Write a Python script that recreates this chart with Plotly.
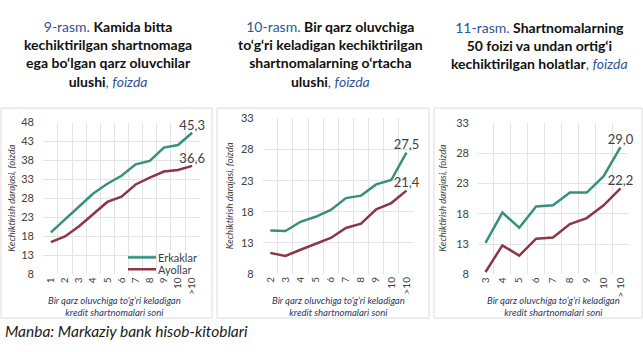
import plotly.graph_objects as go

W, H = 643, 352

# ---- data ----
cats1 = ["1", "2", "3", "4", "5", "6", "7", "8", "9", "10", ">10"]
men1 = [19.1, 22.5, 25.8, 29.3, 31.9, 34.0, 37.0, 37.9, 41.4, 42.1, 45.3]
women1 = [16.5, 18.0, 20.7, 23.9, 27.1, 28.5, 31.7, 33.5, 35.1, 35.5, 36.6]

cats2 = ["2", "3", "4", "5", "6", "7", "8", "9", "10", ">10"]
men2 = [15.0, 14.9, 16.4, 17.2, 18.3, 20.2, 20.6, 22.4, 23.1, 27.5]
women2 = [11.4, 10.9, 11.9, 12.9, 13.8, 15.4, 16.1, 18.4, 19.4, 21.4]

cats3 = ["3", "4", "5", "6", "7", "8", "9", "10", "> 10"]
men3 = [13.2, 18.2, 15.7, 19.2, 19.4, 21.5, 21.5, 24.2, 29.0]
women3 = [8.4, 12.8, 11.1, 13.9, 14.1, 16.3, 17.3, 19.4, 22.2]

series_names = ["Erkaklar", "Ayollar"]
y_ranges = [(8, 48), (8, 33), (8, 33)]

TEAL = "#35917d"
RED = "#8c3746"
COLORS = [TEAL, RED]
GRID = "#e3e3e3"
TXT = "#404040"
BLUE = "#2f5597"
FONT = "Lato, 'Open Sans', sans-serif"

def px_x(p):
    return p / W

def px_y(p):
    return 1 - p / H

def lab(vals):
    return [""] * (len(vals) - 1) + [f"{vals[-1]:.1f}".replace(".", ",")]

fig = go.Figure()

panels = [
    (cats1, men1, women1, "x", "y"),
    (cats2, men2, women2, "x2", "y2"),
    (cats3, men3, women3, "x3", "y3"),
]
for i, (cats, m, w, xa, ya) in enumerate(panels):
    for name, vals, col in ((series_names[0], m, TEAL), (series_names[1], w, RED)):
        fig.add_trace(go.Scatter(
            x=cats, y=vals, name=name, mode="lines+text",
            text=lab(vals), textposition="top center",
            textfont=dict(size=13, color=TXT, family=FONT),
            line=dict(color=col, width=2.5),
            xaxis=xa, yaxis=ya, showlegend=False, cliponaxis=False,
            hoverinfo="skip",
        ))

# plot-area domains in pixels (left, right, top, bottom)
areas = [(43, 200, 120, 277.7), (262.7, 414, 115.7, 277.3), (478, 628, 120.3, 277.7)]

layout = dict(
    width=W, height=H,
    margin=dict(l=0, r=0, t=0, b=0),
    paper_bgcolor="white", plot_bgcolor="white",
    font=dict(family=FONT, color=TXT),
    showlegend=False,
)

for i, (l, r, t, b) in enumerate(areas):
    sx = "" if i == 0 else str(i + 1)
    layout["xaxis" + sx] = dict(
        domain=[px_x(l), px_x(r)], anchor="y" + sx, type="category",
        tickson="boundaries", showgrid=True, gridcolor=GRID, gridwidth=1,
        tickangle=-90, tickfont=dict(size=10, color=TXT, family=FONT),
        ticks="", showline=False, zeroline=False, fixedrange=True,
    )
    lo, hi = y_ranges[i]
    layout["yaxis" + sx] = dict(
        domain=[px_y(b), px_y(t)], anchor="x" + sx, range=[lo, hi],
        tick0=lo, dtick=5, showgrid=True, gridcolor=GRID, gridwidth=1,
        tickfont=dict(size=11, color=TXT, family=FONT), ticks="",
        showline=False, zeroline=False, fixedrange=True, ticklabelstandoff=8,
    )

fig.update_layout(**layout)

# panel borders
for (x0, x1) in [(1, 212), (217, 429), (434, 642)]:
    fig.add_shape(type="rect", xref="paper", yref="paper",
                  x0=px_x(x0), x1=px_x(x1), y0=px_y(323), y1=px_y(105),
                  line=dict(color="#dcdcdc", width=1), layer="below")

# legend (panel 1, lower right inside plot area)
for k, (name, col) in enumerate(zip(series_names, COLORS)):
    yy = 260 + k * 12.3
    fig.add_shape(type="line", xref="paper", yref="paper",
                  x0=px_x(128), x1=px_x(156), y0=px_y(yy), y1=px_y(yy),
                  line=dict(color=col, width=2.5))
    fig.add_annotation(x=px_x(157), y=px_y(yy), xref="paper", yref="paper",
                       text=name, showarrow=False, xanchor="left", yanchor="middle",
                       font=dict(size=11, color=TXT, family=FONT),
                       bgcolor="white", borderpad=0)

titles = [
    (108, 49, f"<span style='color:{BLUE}'>9-rasm.</span> <b>Kamida bitta</b><br>"
              "<b>kechiktirilgan shartnomaga</b><br><b>ega bo‘lgan qarz oluvchilar</b><br>"
              f"<b>ulushi</b><span style='color:{BLUE}'>, <i>foizda</i></span>"),
    (330, 49, f"<span style='color:{BLUE}'>10-rasm.</span> <b>Bir qarz oluvchiga</b><br>"
              "<b>to‘g‘ri keladigan kechiktirilgan</b><br><b>shartnomalarning o‘rtacha</b><br>"
              f"<b>ulushi</b><span style='color:{BLUE}'>, <i>foizda</i></span>"),
    (539, 40, f"<span style='color:{BLUE}'>11-rasm.</span> <b>Shartnomalarning</b><br>"
              "<b>50 foizi va undan ortig‘i</b><br>"
              f"<b>kechiktirilgan holatlar</b><span style='color:{BLUE}'>, <i>foizda</i></span>"),
]
for x, y, t in titles:
    fig.add_annotation(x=px_x(x), y=px_y(y), xref="paper", yref="paper",
                       text=t, showarrow=False, xanchor="center", yanchor="middle",
                       align="center", font=dict(size=14, color="#111111", family=FONT))

ytitle = "<i>Kechiktirish darajasi, foizda</i>"
for x, yc in [(12, 199), (229, 196.5), (443, 199)]:
    fig.add_annotation(x=px_x(x), y=px_y(yc), xref="paper", yref="paper",
                       text=ytitle, textangle=-90, showarrow=False,
                       xanchor="center", yanchor="middle",
                       font=dict(size=9.5, color=TXT, family=FONT))

xtitle = "<i>Bir qarz oluvchiga to‘g‘ri keladigan<br>kredit shartnomalari soni</i>"
for x in [114, 338.5, 553]:
    fig.add_annotation(x=px_x(x), y=px_y(311), xref="paper", yref="paper",
                       text=xtitle, showarrow=False, xanchor="center", yanchor="middle",
                       align="center",
                       font=dict(size=9.5, color="#1f3864", family=FONT))

fig.add_annotation(x=px_x(3), y=px_y(336), xref="paper", yref="paper",
                   text="<i>Manba: Markaziy bank hisob-kitoblari</i>", showarrow=False,
                   xanchor="left", yanchor="middle",
                   font=dict(size=15.5, color="#1a1a1a", family=FONT))

fig.write_html("out.html")
